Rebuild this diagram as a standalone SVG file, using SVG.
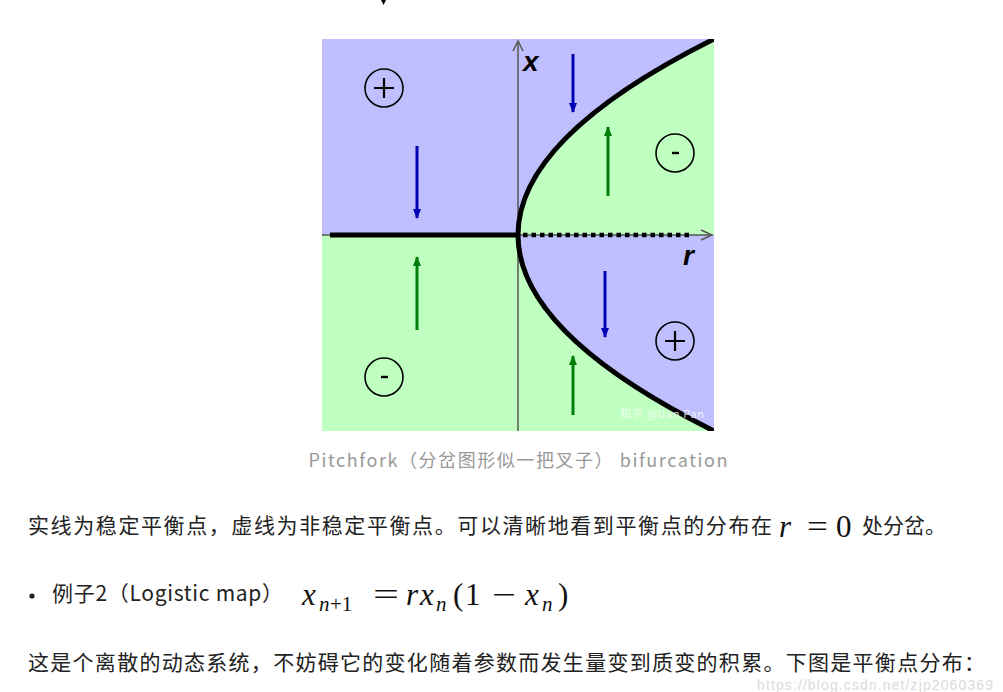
<svg xmlns="http://www.w3.org/2000/svg" width="1003" height="692" viewBox="0 0 1003 692">
<style>
.cjk{font-family:"Microsoft YaHei","Noto Sans CJK SC","Noto Sans",sans-serif;}
.body{font-size:21px;fill:#222;}
.math{font-family:"Liberation Serif","DejaVu Serif",serif;font-style:italic;fill:#111;font-size:31px;}
.mathr{font-family:"Liberation Serif","DejaVu Serif",serif;fill:#111;font-size:31px;}
.sub{font-size:21px;}
.dn{stroke:#0000b4;stroke-width:3;fill:none;}
.up{stroke:#00800a;stroke-width:3;fill:none;}
.sign{fill:none;stroke:#000;stroke-width:1.6;}
</style>
<defs>
<clipPath id="img"><rect x="322" y="39" width="392" height="392"/></clipPath>
<marker id="hb" markerWidth="10" markerHeight="10" refX="9" refY="5" orient="auto" markerUnits="userSpaceOnUse"><path d="M0,1 L10,5 L0,9 Z" fill="#0000b4"/></marker>
<marker id="hg" markerWidth="10" markerHeight="10" refX="9" refY="5" orient="auto" markerUnits="userSpaceOnUse"><path d="M0,1 L10,5 L0,9 Z" fill="#00800a"/></marker>
</defs>
<rect width="1003" height="692" fill="#fff"/>
<path d="M381,0 L386,0 L383.5,5 Z" fill="#000"/>
<g id="plot" clip-path="url(#img)">
<rect x="322" y="39" width="392" height="392" fill="#bfffbf"/>
<path d="M322,39 L714,39 Q518,137 518,235 L322,235 Z" fill="#bfbfff"/>
<path d="M518,235 Q518,333 714,431 L714,235 Z" fill="#bfbfff"/>
<g id="axes" stroke="#555" stroke-width="1.5" fill="none">
<line x1="518" y1="431" x2="518" y2="41"/>
<line x1="322" y1="235" x2="712" y2="235"/>
<path d="M513,51 L518,41 L523,51"/>
<path d="M701,230 L712,235 L701,240"/>
</g>
<line x1="330" y1="235" x2="518" y2="235" stroke="#000" stroke-width="5"/>
<line x1="523" y1="235" x2="692" y2="235" stroke="#000" stroke-width="4.5" stroke-dasharray="4.5 4"/>
<path d="M714,39 Q322,235 714,431" fill="none" stroke="#000" stroke-width="5"/>
<g id="connectors">
<line class="dn" x1="417" y1="146" x2="417" y2="218" marker-end="url(#hb)"/>
<line class="dn" x1="573" y1="54" x2="573" y2="112" marker-end="url(#hb)"/>
<line class="dn" x1="605" y1="271" x2="605" y2="337" marker-end="url(#hb)"/>
<line class="up" x1="608" y1="196" x2="608" y2="127" marker-end="url(#hg)"/>
<line class="up" x1="417" y1="330" x2="417" y2="257" marker-end="url(#hg)"/>
<line class="up" x1="573" y1="415" x2="573" y2="356" marker-end="url(#hg)"/>
</g>
<g id="plus1"><circle class="sign" cx="384" cy="88" r="19"/><path d="M374,88 H394 M384,78 V98" stroke="#000" stroke-width="2.2"/></g>
<g id="minus1"><circle class="sign" cx="675" cy="153" r="19"/><path d="M672,153 H679" stroke="#000" stroke-width="2.4"/></g>
<g id="plus2"><circle class="sign" cx="675" cy="341" r="19"/><path d="M665,341 H685 M675,331 V351" stroke="#000" stroke-width="2.2"/></g>
<g id="minus2"><circle class="sign" cx="384" cy="377" r="19"/><path d="M381,377 H388" stroke="#000" stroke-width="2.4"/></g>
<text x="523" y="71" font-family="Liberation Sans,Arial,sans-serif" font-weight="bold" font-style="italic" font-size="28" fill="#000">x</text>
<text x="683" y="265" font-family="Liberation Sans,Arial,sans-serif" font-weight="bold" font-style="italic" font-size="28" fill="#000">r</text>
<text x="620" y="418" class="cjk" font-size="11" fill="#fff" fill-opacity="0.8" textLength="84">知乎 @Dan Pan</text>
</g>
<text x="518" y="467" text-anchor="middle" class="cjk" font-size="18" fill="#999" textLength="419">Pitchfork（分岔图形似一把叉子） bifurcation</text>
<text x="28" y="533" class="cjk body" textLength="744">实线为稳定平衡点，虚线为非稳定平衡点。可以清晰地看到平衡点的分布在</text>
<text x="779" y="537" class="math">r</text>
<text x="807" y="537" class="mathr" textLength="21" lengthAdjust="spacingAndGlyphs">=</text>
<text x="836" y="537" class="mathr">0</text>
<text x="862" y="533" class="cjk body" textLength="84">处分岔。</text>
<circle cx="32" cy="596" r="2.6" fill="#222"/>
<text x="52" y="601" class="cjk body" textLength="231">例子2（Logistic map）</text>
<text x="302" y="605" class="math">x</text>
<text x="319" y="611" class="math sub">n</text>
<text x="330" y="611" class="mathr sub">+1</text>
<text x="373" y="605" class="mathr" textLength="26" lengthAdjust="spacingAndGlyphs">=</text>
<text x="406" y="605" class="math">r</text>
<text x="420" y="605" class="math">x</text>
<text x="436" y="611" class="math sub">n</text>
<text x="453" y="605" class="mathr">(</text>
<text x="465" y="605" class="mathr">1</text>
<text x="492" y="605" class="mathr" textLength="24" lengthAdjust="spacingAndGlyphs">−</text>
<text x="525" y="605" class="math">x</text>
<text x="542" y="611" class="math sub">n</text>
<text x="558" y="605" class="mathr">)</text>
<text x="28" y="670" class="cjk body" textLength="957">这是个离散的动态系统，不妨碍它的变化随着参数而发生量变到质变的积累。下图是平衡点分布：</text>
<text x="757" y="690" font-family="Liberation Sans,Arial,sans-serif" font-size="14" fill="#d0d0d0" fill-opacity="0.8" textLength="236">https://blog.csdn.net/zjp2060369</text>
</svg>
